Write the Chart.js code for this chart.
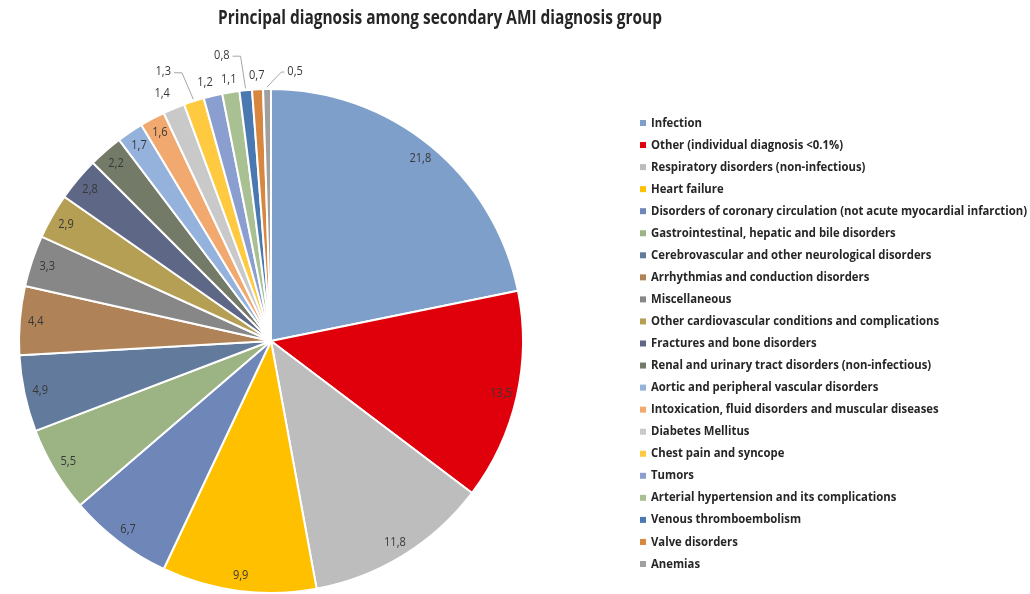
<!DOCTYPE html>
<html lang="en">
  <head>
    <meta charset="UTF-8" />
    <title>Principal diagnosis among secondary AMI diagnosis group</title>
    <script src="https://cdn.jsdelivr.net/npm/chart.js@4.4.1/dist/chart.umd.min.js"></script>
    <style>
      html, body { margin: 0; padding: 0; background: #fff; }
      canvas { display: block; }
    </style>
  </head>
  <body>
    <canvas id="myChart" width="1030" height="594"></canvas>
    <script>
      const chartTitle = "Principal diagnosis among secondary AMI diagnosis group";

      const diagnoses = [
        "Infection",
        "Other (individual diagnosis <0.1%)",
        "Respiratory disorders (non-infectious)",
        "Heart failure",
        "Disorders of coronary circulation (not acute myocardial infarction)",
        "Gastrointestinal, hepatic and bile disorders",
        "Cerebrovascular and other neurological disorders",
        "Arrhythmias and conduction disorders",
        "Miscellaneous",
        "Other cardiovascular conditions and complications",
        "Fractures and bone disorders",
        "Renal and urinary tract disorders (non-infectious)",
        "Aortic and peripheral vascular disorders",
        "Intoxication, fluid disorders and muscular diseases",
        "Diabetes Mellitus",
        "Chest pain and syncope",
        "Tumors",
        "Arterial hypertension and its complications",
        "Venous thromboembolism",
        "Valve disorders",
        "Anemias",
      ];

      const percents = [
        21.8, 13.5, 11.8, 9.9, 6.7, 5.5, 4.9, 4.4, 3.3, 2.9, 2.8, 2.2, 1.7, 1.6,
        1.4, 1.3, 1.2, 1.1, 0.8, 0.7, 0.5,
      ];

      const sliceColors = [
        "#7f9fcb", "#e0000b", "#bdbdbd", "#ffc000", "#6e86b8", "#9cb383",
        "#627a9c", "#b08257", "#878787", "#b49f55", "#5e6886", "#737b68",
        "#94b2dc", "#f1a96f", "#c9c9c9", "#ffc940", "#8a9ed0", "#a9c093",
        "#4a78b0", "#d7873f", "#a0a0a0",
      ];

      // label placement: radial offset from the rim (px), angle shift (deg), leader line
      const labelPlace = {
        14: { dr: 19, da: -1 },
        15: { dr: 38, da: -4, leader: true },
        16: { dr: 15, da: -1 },
        17: { dr: 13, da: 0 },
        18: { dr: 38, da: -4, leader: true },
        19: { dr: 14, da: 0 },
        20: { dr: 19, da: 6, leader: true },
      };

      // draw text squeezed horizontally (the original uses a narrow font)
      function squeezedText(ctx, text, x, y, sx) {
        ctx.save();
        ctx.translate(x, y);
        ctx.scale(sx, 1);
        ctx.fillText(text, 0, 0);
        ctx.restore();
      }

      const decorations = {
        id: "decorations",
        afterDraw(chart) {
          const ctx = chart.ctx;
          ctx.save();

          // title
          ctx.font = "bold 20px 'Open Sans'";
          ctx.fillStyle = "#262626";
          ctx.textAlign = "center";
          ctx.textBaseline = "middle";
          let tsx = 444 / ctx.measureText(chartTitle).width;
          squeezedText(ctx, chartTitle, 440, 18, tsx);

          // value labels
          let meta = chart.getDatasetMeta(0);
          ctx.font = "13px 'Open Sans'";
          meta.data.forEach((arc, i) => {
            let p = arc.getProps(["x", "y", "startAngle", "endAngle", "outerRadius"], true);
            let mid = (p.startAngle + p.endAngle) / 2;
            let place = labelPlace[i] || { dr: -16, da: 0 };
            let a = mid + (place.da * Math.PI) / 180;
            let r = p.outerRadius + place.dr;
            let lx = p.x + Math.cos(a) * r;
            let ly = p.y + Math.sin(a) * r;
            let txt = percents[i].toFixed(1).replace(".", ",");
            ctx.fillStyle = "#383838";
            squeezedText(ctx, txt, lx, ly, 0.85);

            if (place.leader) {
              let ex = p.x + Math.cos(mid) * (p.outerRadius + 2);
              let ey = p.y + Math.sin(mid) * (p.outerRadius + 2);
              let half = (ctx.measureText(txt).width * 0.85) / 2 + 3;
              let sx = ex > lx ? lx + half : lx - half;
              let bx = ex > lx ? sx + 8 : sx - 3;
              ctx.strokeStyle = "#a6a6a6";
              ctx.lineWidth = 1;
              ctx.beginPath();
              ctx.moveTo(sx, ly + 1);
              ctx.lineTo(bx, ly + 1);
              ctx.lineTo(ex, ey);
              ctx.stroke();
            }
          });

          // legend
          ctx.font = "bold 12.5px 'Open Sans'";
          ctx.textAlign = "left";
          let longest = diagnoses.reduce((a, b) => (a.length > b.length ? a : b));
          let lsx = 376 / ctx.measureText(longest).width;
          let top = 123;
          let step = 22.05;
          diagnoses.forEach((name, i) => {
            let y = top + i * step;
            ctx.fillStyle = sliceColors[i];
            ctx.fillRect(640, y - 3, 6, 6);
            ctx.fillStyle = "#262626";
            squeezedText(ctx, name, 651, y, lsx);
          });

          ctx.restore();
        },
      };

      new Chart("myChart", {
        type: "pie",
        data: {
          labels: diagnoses,
          datasets: [
            {
              data: percents,
              backgroundColor: sliceColors,
              borderColor: "#ffffff",
              borderWidth: 2,
              hoverOffset: 0,
            },
          ],
        },
        options: {
          responsive: false,
          animation: false,
          layout: { padding: { left: 17, right: 505, top: 88, bottom: 0 } },
          plugins: {
            legend: { display: false },
            title: { display: false },
            tooltip: { enabled: false },
          },
        },
        plugins: [decorations],
      });
    </script>
  </body>
</html>
